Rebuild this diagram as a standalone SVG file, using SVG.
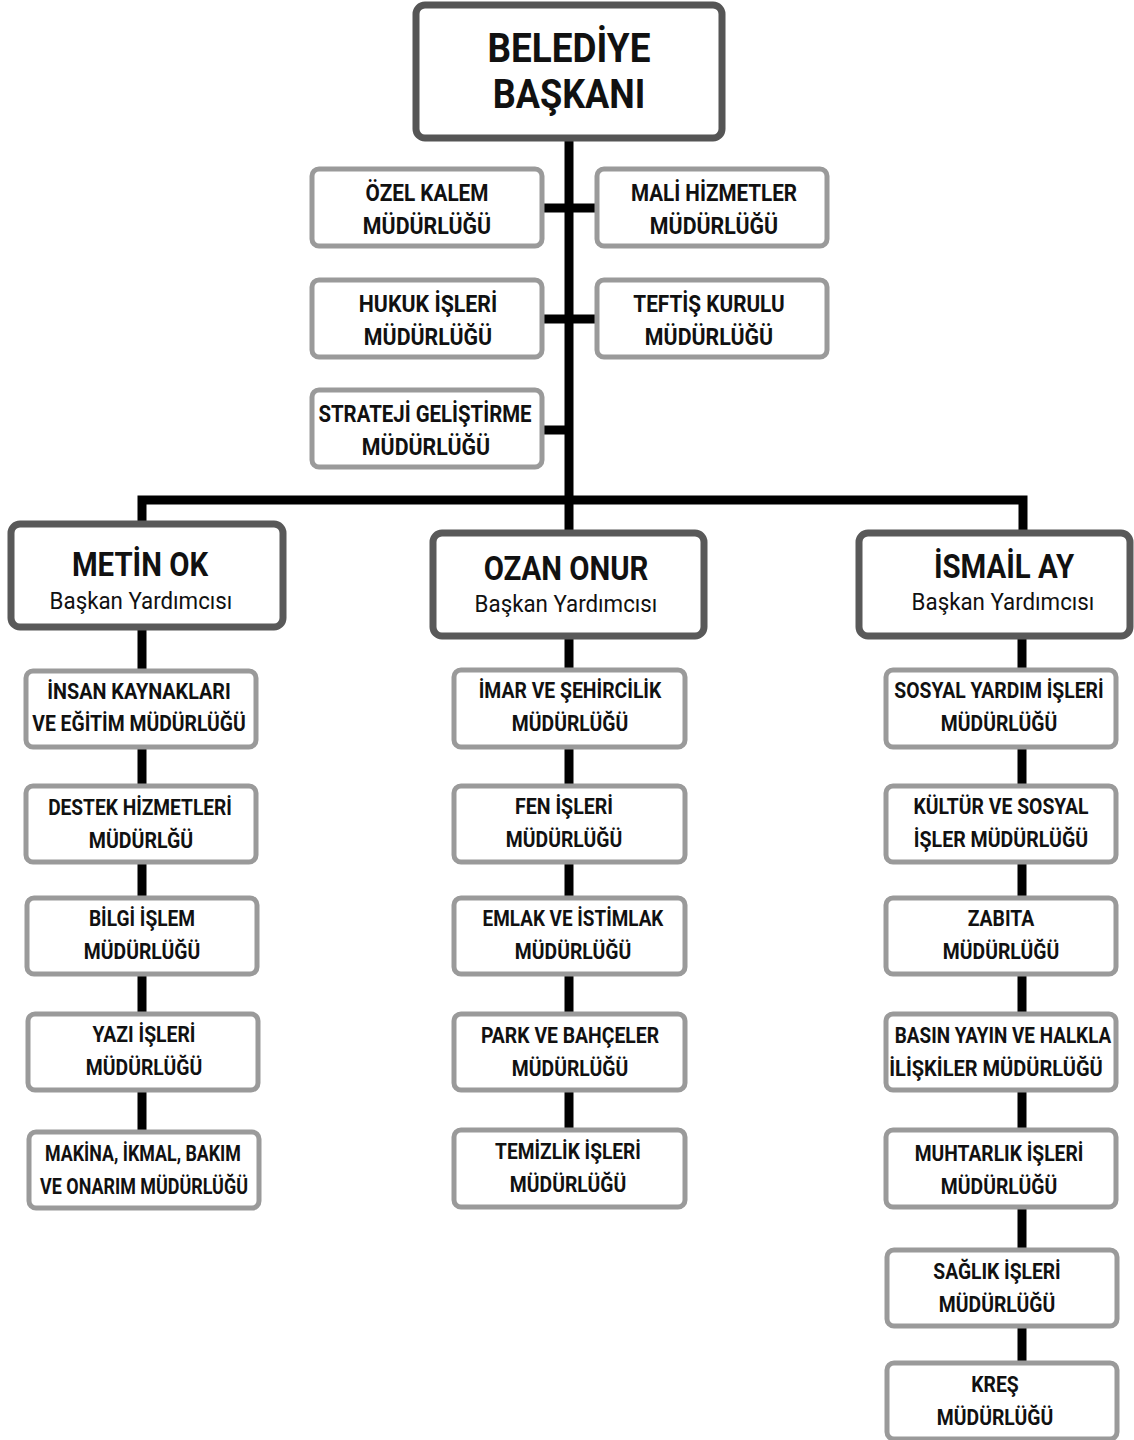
<svg xmlns="http://www.w3.org/2000/svg" width="1134" height="1440" viewBox="0 0 1134 1440">
<style>
.bg{fill:#ffffff}
.top{fill:#fff;stroke:#555;stroke-width:7}
.dep{fill:#fff;stroke:#595959;stroke-width:7}
.box{fill:#fff;stroke:#9a9a9a;stroke-width:5}
.ln{stroke:#000;stroke-width:9;fill:none}
text{font-family:"Roboto","Liberation Sans",sans-serif;fill:#111;text-anchor:middle}
.t{font-size:24px;font-weight:bold}
.u{font-size:22px;font-weight:bold}
.h{font-size:41px;font-weight:bold}
.n{font-size:33px;font-weight:bold}
.s{font-size:24px;font-weight:normal}
</style>
<rect class="bg" width="1134" height="1440"/>
<g id="connectors">
<path class="ln" d="M569 140V500"/>
<path class="ln" d="M543 208H596M543 319H596M543 430H569"/>
<path class="ln" d="M142 523V500H1023V532M569 500V532"/>
<path class="ln" d="M142 628V670M142 748V785M142 863V897M142 975V1013M142 1090V1131"/>
<path class="ln" d="M569 637V669M569 747V785M569 863V897M569 975V1013M569 1090V1129"/>
<path class="ln" d="M1022 637V669M1022 747V785M1022 863V897M1022 975V1013M1022 1090V1129M1022 1208V1249M1022 1327V1362"/>
</g>
<g id="baskan"><rect class="top" x="416" y="5" width="306" height="133" rx="9"/><text class="h" transform="translate(569 62) scale(0.9 1)">BELEDİYE</text><text class="h" transform="translate(569 108) scale(0.88 1)">BAŞKANI</text></g>
<g id="ozel-kalem"><rect class="box" x="312" y="169" width="230" height="77" rx="7"/><text class="t" transform="translate(427 201) scale(0.865 1)">ÖZEL KALEM</text><text class="t" transform="translate(427 234) scale(0.89 1)">MÜDÜRLÜĞÜ</text></g>
<g id="mali"><rect class="box" x="597" y="169" width="230" height="77" rx="7"/><text class="t" transform="translate(714 201) scale(0.86 1)">MALİ HİZMETLER</text><text class="t" transform="translate(714 234) scale(0.89 1)">MÜDÜRLÜĞÜ</text></g>
<g id="hukuk"><rect class="box" x="312" y="280" width="230" height="77" rx="7"/><text class="t" transform="translate(428 312) scale(0.89 1)">HUKUK İŞLERİ</text><text class="t" transform="translate(428 345) scale(0.89 1)">MÜDÜRLÜĞÜ</text></g>
<g id="teftis"><rect class="box" x="597" y="280" width="230" height="77" rx="7"/><text class="t" transform="translate(709 312) scale(0.865 1)">TEFTİŞ KURULU</text><text class="t" transform="translate(709 345) scale(0.89 1)">MÜDÜRLÜĞÜ</text></g>
<g id="strateji"><rect class="box" x="312" y="390" width="230" height="77" rx="7"/><text class="t" transform="translate(425 422) scale(0.85 1)">STRATEJİ GELİŞTİRME</text><text class="t" transform="translate(426 455) scale(0.89 1)">MÜDÜRLÜĞÜ</text></g>
<g id="metin-ok"><rect class="dep" x="11" y="524" width="272" height="103" rx="9"/><text class="n" transform="translate(140 576) scale(0.89 1)">METİN OK</text><text class="s" transform="translate(141 609) scale(0.93 1)">Başkan Yardımcısı</text></g>
<g id="ozan-onur"><rect class="dep" x="433" y="533" width="271" height="103" rx="9"/><text class="n" transform="translate(566 580) scale(0.89 1)">OZAN ONUR</text><text class="s" transform="translate(566 612) scale(0.93 1)">Başkan Yardımcısı</text></g>
<g id="ismail-ay"><rect class="dep" x="859" y="533" width="271" height="103" rx="9"/><text class="n" transform="translate(1004 578) scale(0.89 1)">İSMAİL AY</text><text class="s" transform="translate(1003 610) scale(0.93 1)">Başkan Yardımcısı</text></g>
<g id="insan-kaynaklari"><rect class="box" x="26" y="671" width="230" height="76" rx="7"/><text class="u" transform="translate(139 699) scale(0.9 1)">İNSAN KAYNAKLARI</text><text class="u" transform="translate(139 731) scale(0.88 1)">VE EĞİTİM MÜDÜRLÜĞÜ</text></g>
<g id="destek"><rect class="box" x="26" y="786" width="230" height="76" rx="7"/><text class="u" transform="translate(140 815) scale(0.87 1)">DESTEK HİZMETLERİ</text><text class="u" transform="translate(141 848) scale(0.89 1)">MÜDÜRLĞÜ</text></g>
<g id="bilgi-islem"><rect class="box" x="27" y="898" width="230" height="76" rx="7"/><text class="u" transform="translate(142 926) scale(0.87 1)">BİLGİ İŞLEM</text><text class="u" transform="translate(142 959) scale(0.88 1)">MÜDÜRLÜĞÜ</text></g>
<g id="yazi-isleri"><rect class="box" x="28" y="1014" width="230" height="76" rx="7"/><text class="u" transform="translate(144 1042) scale(0.88 1)">YAZI İŞLERİ</text><text class="u" transform="translate(144 1075) scale(0.88 1)">MÜDÜRLÜĞÜ</text></g>
<g id="makina"><rect class="box" x="29" y="1132" width="230" height="76" rx="7"/><text class="u" transform="translate(143 1161) scale(0.81 1)">MAKİNA, İKMAL, BAKIM</text><text class="u" transform="translate(144 1194) scale(0.815 1)">VE ONARIM MÜDÜRLÜĞÜ</text></g>
<g id="imar"><rect class="box" x="454" y="670" width="231" height="77" rx="7"/><text class="u" transform="translate(570 698) scale(0.88 1)">İMAR VE ŞEHİRCİLİK</text><text class="u" transform="translate(570 731) scale(0.88 1)">MÜDÜRLÜĞÜ</text></g>
<g id="fen"><rect class="box" x="454" y="786" width="231" height="76" rx="7"/><text class="u" transform="translate(564 814) scale(0.89 1)">FEN İŞLERİ</text><text class="u" transform="translate(564 847) scale(0.88 1)">MÜDÜRLÜĞÜ</text></g>
<g id="emlak"><rect class="box" x="454" y="898" width="231" height="76" rx="7"/><text class="u" transform="translate(573 926) scale(0.86 1)">EMLAK VE İSTİMLAK</text><text class="u" transform="translate(573 959) scale(0.88 1)">MÜDÜRLÜĞÜ</text></g>
<g id="park"><rect class="box" x="454" y="1014" width="231" height="76" rx="7"/><text class="u" transform="translate(570 1043) scale(0.88 1)">PARK VE BAHÇELER</text><text class="u" transform="translate(570 1076) scale(0.88 1)">MÜDÜRLÜĞÜ</text></g>
<g id="temizlik"><rect class="box" x="454" y="1130" width="231" height="77" rx="7"/><text class="u" transform="translate(568 1159) scale(0.87 1)">TEMİZLİK İŞLERİ</text><text class="u" transform="translate(568 1192) scale(0.88 1)">MÜDÜRLÜĞÜ</text></g>
<g id="sosyal-yardim"><rect class="box" x="886" y="670" width="230" height="77" rx="7"/><text class="u" transform="translate(999 698) scale(0.88 1)">SOSYAL YARDIM İŞLERİ</text><text class="u" transform="translate(999 731) scale(0.88 1)">MÜDÜRLÜĞÜ</text></g>
<g id="kultur"><rect class="box" x="886" y="786" width="230" height="76" rx="7"/><text class="u" transform="translate(1001 814) scale(0.88 1)">KÜLTÜR VE SOSYAL</text><text class="u" transform="translate(1001 847) scale(0.89 1)">İŞLER MÜDÜRLÜĞÜ</text></g>
<g id="zabita"><rect class="box" x="886" y="898" width="230" height="76" rx="7"/><text class="u" transform="translate(1001 926) scale(0.88 1)">ZABITA</text><text class="u" transform="translate(1001 959) scale(0.88 1)">MÜDÜRLÜĞÜ</text></g>
<g id="basin"><rect class="box" x="886" y="1014" width="230" height="76" rx="7"/><text class="u" transform="translate(1003 1043) scale(0.86 1)">BASIN YAYIN VE HALKLA</text><text class="u" transform="translate(996 1076) scale(0.91 1)">İLİŞKİLER MÜDÜRLÜĞÜ</text></g>
<g id="muhtarlik"><rect class="box" x="886" y="1130" width="230" height="77" rx="7"/><text class="u" transform="translate(999 1161) scale(0.875 1)">MUHTARLIK İŞLERİ</text><text class="u" transform="translate(999 1194) scale(0.88 1)">MÜDÜRLÜĞÜ</text></g>
<g id="saglik"><rect class="box" x="887" y="1250" width="230" height="76" rx="7"/><text class="u" transform="translate(997 1279) scale(0.875 1)">SAĞLIK İŞLERİ</text><text class="u" transform="translate(997 1312) scale(0.88 1)">MÜDÜRLÜĞÜ</text></g>
<g id="kres"><rect class="box" x="887" y="1363" width="230" height="76" rx="7"/><text class="u" transform="translate(995 1392) scale(0.88 1)">KREŞ</text><text class="u" transform="translate(995 1425) scale(0.88 1)">MÜDÜRLÜĞÜ</text></g>
</svg>
